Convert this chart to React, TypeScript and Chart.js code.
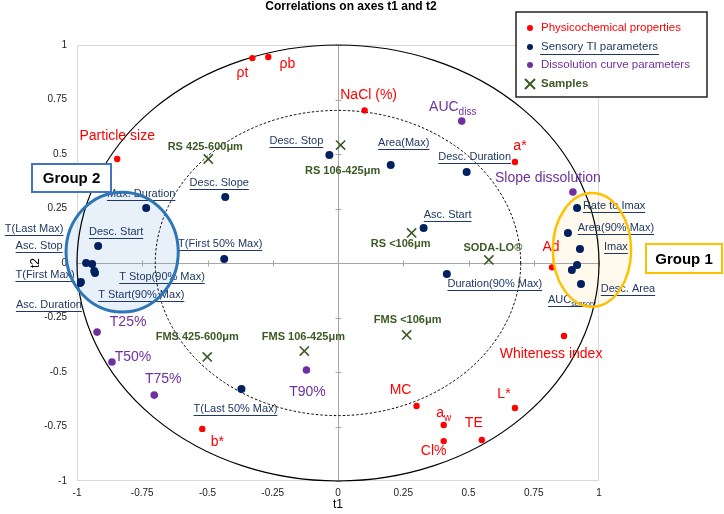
import React, { useEffect, useRef } from "react";
import { Chart, registerables } from "chart.js";
Chart.register(...registerables);

// ---------------- data ----------------
const chartTitle = "Correlations on axes t1 and t2";
const xTitle = "t1";
const yTitle = "t2";
const axisTicks = [-1, -0.75, -0.5, -0.25, 0, 0.25, 0.5, 0.75, 1];
const legendLabels = ["Physicochemical properties", "Sensory TI parameters", "Dissolution curve parameters", "Samples"];
const groupLabels = ["Group 1", "Group 2"];
const outerRadius = 1;
const innerRadius = 0.7;

const physNames = ["ρt", "ρb", "NaCl (%)", "Particle size", "a*", "Ad", "Whiteness index", "L*", "a_w", "Cl%", "TE", "MC", "b*"];
const physT1 = [-0.328, -0.267, 0.102, -0.846, 0.678, 0.82, 0.866, 0.678, 0.405, 0.405, 0.551, 0.301, -0.52];
const physT2 = [0.94, 0.945, 0.7, 0.477, 0.463, -0.02, -0.335, -0.665, -0.743, -0.817, -0.812, -0.656, -0.761];

const sensNames = ["Desc. Stop", "Area(Max)", "Desc. Duration", "Asc. Start", "Duration(90% Max)", "Desc. Slope", "Max. Duration", "Desc. Start", "T(First 50% Max)", "T(Last Max)", "Asc. Stop", "T Stop(90% Max)", "T Start(90% Max)", "T(First Max)", "Asc. Duration", "T(Last 50% Max)", "Rate to Imax", "Area(90% Max)", "Imax", "", "AUC_sensory", "Desc. Area"];
const sensT1 = [-0.033, 0.202, 0.493, 0.328, 0.417, -0.432, -0.735, -0.919, -0.436, -0.965, -0.942, -0.931, -0.934, -0.988, -0.985, -0.37, 0.916, 0.881, 0.927, 0.916, 0.896, 0.931];
const sensT2 = [0.495, 0.45, 0.417, 0.161, -0.05, 0.303, 0.252, 0.078, 0.018, 0.0, -0.005, -0.046, -0.037, -0.092, -0.087, -0.578, 0.252, 0.138, 0.064, -0.009, -0.032, -0.096];

const dissNames = ["AUC_diss", "Slope dissolution", "T25%", "T50%", "T75%", "T90%"];
const dissT1 = [0.474, 0.9, -0.923, -0.866, -0.704, -0.121];
const dissT2 = [0.651, 0.326, -0.317, -0.454, -0.606, -0.491];

const sampleNames = ["RS 425-600μm", "RS 106-425μm", "RS <106μm", "SODA-LO®", "FMS 425-600μm", "FMS 106-425μm", "FMS <106μm"];
const sampleT1 = [-0.497, 0.01, 0.282, 0.578, -0.501, -0.129, 0.263];
const sampleT2 = [0.477, 0.541, 0.138, 0.014, -0.431, -0.404, -0.33];

// group ellipses (data space: centre t1, t2, radii)
const group1Shape = [0.973, 0.06, 0.15, 0.261];
const group2Shape = [-0.827, 0.05, 0.215, 0.275];

// ---------------- layout / style ----------------
const physOff = [[-10, 15], [19, 7], [4, -15], [0, -23], [5, -16], [-1, -20], [-13, 18], [-11, -14], [0, -12], [-10, 10], [-8, -17], [-16, -16], [15, 13]];
const sensOff = [[-33, -14], [13, -22], [8, -15], [24, -13], [48, 10], [-6, -14], [-5, -14], [18, -14], [-4, -15], [-52, -34], [-53, -18], [67, 4], [47, 24], [-35, -8], [-32, 23], [-6, 20], [37, -2], [48, -5], [36, -2], [0, 0], [0, 30], [47, 5]];
const dissOff = [[-9, -14], [-25, -14], [31, -10], [21, -5], [9, -16], [1, 22]];
const sampleOff = [[-3, -12], [2, 26], [-11, 11], [4, -12], [-10, -20], [-1, -14], [1, -15]];

const RED = "#ff0000";
const NAVY = "#002060";
const NAVY_TXT = "#1f3864";
const PURPLE = "#7030a0";
const GREEN = "#3a5a24";
const F = '"Liberation Sans", Arial, sans-serif';

function toPoints(a: number[], b: number[]) {
  return a.map((v, i) => ({ x: v, y: b[i] }));
}

function drawLabel(ctx: CanvasRenderingContext2D, text: string, cx: number, cy: number, size: number, weight: string, color: string, underline: boolean, family = F) {
  if (!text) return;
  const [main, sub] = text.split("_");
  ctx.font = `${weight} ${size}px ${family}`;
  const wMain = ctx.measureText(main).width;
  const subSize = Math.round(size * 0.68);
  let wSub = 0;
  if (sub) {
    ctx.font = `${weight} ${subSize}px ${family}`;
    wSub = ctx.measureText(sub).width;
  }
  const total = wMain + wSub;
  const sx = cx - total / 2;
  ctx.fillStyle = color;
  ctx.textBaseline = "middle";
  ctx.textAlign = "left";
  ctx.font = `${weight} ${size}px ${family}`;
  ctx.fillText(main, sx, cy);
  if (sub) {
    ctx.font = `${weight} ${subSize}px ${family}`;
    ctx.fillText(sub, sx + wMain, cy + size * 0.35);
  }
  if (underline) {
    ctx.strokeStyle = color;
    ctx.lineWidth = 1;
    ctx.beginPath();
    const uy = Math.round(cy + size * 0.55) + 0.5;
    ctx.moveTo(sx, uy);
    ctx.lineTo(sx + total, uy);
    ctx.stroke();
  }
}

const overlay = {
  id: "overlay",
  beforeDatasetsDraw(chart: any) {
    const { ctx, chartArea: a, scales } = chart;
    const x = scales.x, y = scales.y;
    const px = (v: number) => x.getPixelForValue(v);
    const py = (v: number) => y.getPixelForValue(v);
    ctx.save();
    // plot border
    ctx.strokeStyle = "#d9d9d9";
    ctx.lineWidth = 1;
    ctx.strokeRect(Math.round(a.left) + 0.5, Math.round(a.top) + 0.5, Math.round(a.right - a.left) - 1, Math.round(a.bottom - a.top) - 1);
    // group fills
    const fillEll = (g: number[], col: string) => {
      ctx.beginPath();
      ctx.ellipse(px(g[0]), py(g[1]), px(g[2]) - px(0), py(0) - py(g[3]), 0, 0, Math.PI * 2);
      ctx.fillStyle = col;
      ctx.fill();
    };
    fillEll(group2Shape, "rgba(214,228,245,0.55)");
    fillEll(group1Shape, "rgba(255,244,214,0.45)");
    // axis lines at zero
    ctx.strokeStyle = "#a6a6a6";
    ctx.lineWidth = 1;
    const x0 = Math.round(px(0)) + 0.5;
    const y0 = Math.round(py(0)) + 0.5;
    ctx.beginPath();
    ctx.moveTo(x0, a.top);
    ctx.lineTo(x0, a.bottom);
    ctx.moveTo(a.left, y0);
    ctx.lineTo(a.right, y0);
    for (const v of axisTicks) {
      const tx = Math.round(px(v)) + 0.5;
      ctx.moveTo(tx, y0 - 3);
      ctx.lineTo(tx, y0 + 3);
      const ty = Math.round(py(v)) + 0.5;
      ctx.moveTo(x0 - 3, ty);
      ctx.lineTo(x0 + 3, ty);
    }
    ctx.stroke();
    // correlation circles
    const cx = px(0), cy = py(0);
    ctx.strokeStyle = "#000";
    ctx.lineWidth = 1.2;
    ctx.beginPath();
    ctx.ellipse(cx, cy, px(outerRadius) - cx, cy - py(outerRadius), 0, 0, Math.PI * 2);
    ctx.stroke();
    ctx.lineWidth = 1;
    ctx.setLineDash([2.5, 2]);
    ctx.beginPath();
    ctx.ellipse(cx, cy, px(innerRadius) - cx, cy - py(innerRadius), 0, 0, Math.PI * 2);
    ctx.stroke();
    ctx.setLineDash([]);
    ctx.restore();
  },
  afterDatasetsDraw(chart: any) {
    const { ctx, scales } = chart;
    const x = scales.x, y = scales.y;
    const px = (v: number) => x.getPixelForValue(v);
    const py = (v: number) => y.getPixelForValue(v);
    ctx.save();
    // point labels
    physNames.forEach((n, i) => drawLabel(ctx, n, px(physT1[i]) + physOff[i][0], py(physT2[i]) + physOff[i][1], 14, "normal", RED, false));
    sensNames.forEach((n, i) => drawLabel(ctx, n, px(sensT1[i]) + sensOff[i][0], py(sensT2[i]) + sensOff[i][1], 11, "normal", NAVY_TXT, true));
    dissNames.forEach((n, i) => drawLabel(ctx, n, px(dissT1[i]) + dissOff[i][0], py(dissT2[i]) + dissOff[i][1], 14, "normal", PURPLE, false));
    sampleNames.forEach((n, i) => drawLabel(ctx, n, px(sampleT1[i]) + sampleOff[i][0], py(sampleT2[i]) + sampleOff[i][1], 11, "bold", GREEN, false));
    // group ellipse strokes
    const strokeEll = (g: number[], col: string, lw: number) => {
      ctx.beginPath();
      ctx.ellipse(px(g[0]), py(g[1]), px(g[2]) - px(0), py(0) - py(g[3]), 0, 0, Math.PI * 2);
      ctx.strokeStyle = col;
      ctx.lineWidth = lw;
      ctx.stroke();
    };
    strokeEll(group2Shape, "#2e75b6", 3);
    strokeEll(group1Shape, "#ffc000", 2.5);
    // group boxes
    const box = (bx: number, by: number, bw: number, bh: number, col: string, text: string) => {
      ctx.fillStyle = "#fff";
      ctx.fillRect(bx, by, bw, bh);
      ctx.strokeStyle = col;
      ctx.lineWidth = 2;
      ctx.strokeRect(bx, by, bw, bh);
      ctx.fillStyle = "#000";
      ctx.font = `bold 15px ${F}`;
      ctx.textAlign = "center";
      ctx.textBaseline = "middle";
      ctx.fillText(text, bx + bw / 2, by + bh / 2 + 1);
    };
    box(646, 244, 76, 29, "#ffc000", groupLabels[0]);
    box(32, 164, 79, 28, "#4472c4", groupLabels[1]);
    // legend
    ctx.fillStyle = "#fff";
    ctx.fillRect(516, 12, 191, 85);
    ctx.strokeStyle = "#222";
    ctx.lineWidth = 1.5;
    ctx.strokeRect(516, 12, 191, 85);
    const cols = [RED, NAVY, PURPLE, GREEN];
    const ly = [28, 47, 65, 84];
    legendLabels.forEach((t, i) => {
      if (i < 3) {
        ctx.fillStyle = cols[i];
        ctx.beginPath();
        ctx.arc(530, ly[i], 3, 0, Math.PI * 2);
        ctx.fill();
      } else {
        ctx.strokeStyle = GREEN;
        ctx.lineWidth = 2;
        ctx.beginPath();
        ctx.moveTo(525, ly[i] - 5);
        ctx.lineTo(535, ly[i] + 5);
        ctx.moveTo(535, ly[i] - 5);
        ctx.lineTo(525, ly[i] + 5);
        ctx.stroke();
      }
      ctx.font = `${i === 3 ? "bold" : "normal"} 11.5px ${F}`;
      ctx.fillStyle = i === 1 ? NAVY_TXT : cols[i];
      ctx.textAlign = "left";
      ctx.textBaseline = "middle";
      ctx.fillText(t, 541, ly[i]);
      if (i === 1) {
        ctx.strokeStyle = NAVY_TXT;
        ctx.lineWidth = 1;
        ctx.beginPath();
        ctx.moveTo(540, ly[i] + 7.5);
        ctx.lineTo(659, ly[i] + 7.5);
        ctx.stroke();
      }
    });
    // title and axis titles
    ctx.fillStyle = "#000";
    ctx.font = `bold 12px ${F}`;
    ctx.textAlign = "center";
    ctx.textBaseline = "middle";
    ctx.fillText(chartTitle, 351, 7);
    ctx.font = `12px ${F}`;
    ctx.fillText(xTitle, px(0), 505);
    ctx.save();
    ctx.translate(36, py(0));
    ctx.rotate(-Math.PI / 2);
    ctx.fillText(yTitle, 0, 0);
    ctx.restore();
    ctx.restore();
  },
};

export default function App() {
  const ref = useRef<HTMLCanvasElement | null>(null);
  useEffect(() => {
    if (!ref.current) return;
    const tickOpts = {
      font: { family: F, size: 10 },
      color: "#222",
      callback: (v: any) => String(Math.round(Number(v) * 100) / 100),
    };
    const chart = new Chart(ref.current, {
      type: "scatter",
      data: {
        datasets: [
          { label: legendLabels[0], data: toPoints(physT1, physT2), pointRadius: 3.2, pointBackgroundColor: RED, pointBorderWidth: 0 },
          { label: legendLabels[1], data: toPoints(sensT1, sensT2), pointRadius: 4, pointBackgroundColor: NAVY, pointBorderWidth: 0 },
          { label: legendLabels[2], data: toPoints(dissT1, dissT2), pointRadius: 3.8, pointBackgroundColor: PURPLE, pointBorderWidth: 0 },
          { label: legendLabels[3], data: toPoints(sampleT1, sampleT2), pointStyle: "crossRot", pointRadius: 6.5, pointBorderColor: GREEN, pointBorderWidth: 1.6 },
        ],
      } as any,
      options: {
        animation: false,
        responsive: false,
        devicePixelRatio: 1,
        layout: { padding: { top: 45, right: 125, left: 0, bottom: 0 } },
        plugins: { legend: { display: false }, tooltip: { enabled: false }, title: { display: false } },
        scales: {
          x: {
            type: "linear",
            min: -1,
            max: 1,
            afterBuildTicks: (s: any) => { s.ticks = axisTicks.map((v) => ({ value: v })); },
            afterFit: (s: any) => { s.height = 33; },
            grid: { display: false, drawTicks: false },
            border: { display: false },
            ticks: { ...tickOpts, padding: 6, maxRotation: 0, autoSkip: false },
          },
          y: {
            type: "linear",
            min: -1,
            max: 1,
            afterBuildTicks: (s: any) => { s.ticks = axisTicks.map((v) => ({ value: v })); },
            afterFit: (s: any) => { s.width = 77; },
            grid: { display: false, drawTicks: false },
            border: { display: false },
            ticks: { ...tickOpts, padding: 10, autoSkip: false },
          },
        },
      } as any,
      plugins: [overlay],
    });
    return () => chart.destroy();
  }, []);
  return (
    <div style={{ position: "absolute", left: 0, top: 0, width: 724, height: 514, background: "#fff" }}>
      <canvas ref={ref} width={724} height={514} style={{ width: 724, height: 514 }} />
    </div>
  );
}
